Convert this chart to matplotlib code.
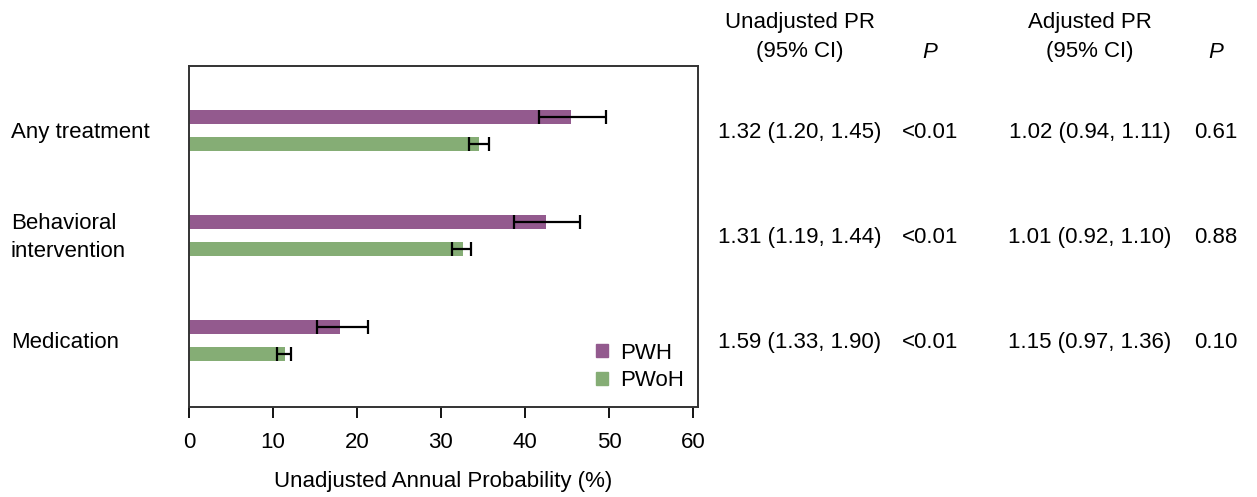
import numpy as np
import matplotlib
matplotlib.use("Agg")
import matplotlib.pyplot as plt
from matplotlib.patches import Patch

plt.rcParams["font.family"] = ["Liberation Sans", "DejaVu Sans"]

categories = ["Any treatment", "Behavioral\nintervention", "Medication"]
pwh_values = [45.5, 42.5, 18.0]
pwh_lower = [41.7, 38.7, 15.2]
pwh_upper = [49.6, 46.5, 21.3]
pwoh_values = [34.5, 32.6, 11.4]
pwoh_lower = [33.3, 31.3, 10.5]
pwoh_upper = [35.7, 33.6, 12.1]

unadj_pr = ["1.32 (1.20, 1.45)", "1.31 (1.19, 1.44)", "1.59 (1.33, 1.90)"]
unadj_p = ["<0.01", "<0.01", "<0.01"]
adj_pr = ["1.02 (0.94, 1.11)", "1.01 (0.92, 1.10)", "1.15 (0.97, 1.36)"]
adj_p = ["0.61", "0.88", "0.10"]

purple = "#935a8e"
green = "#85ad75"
W, H = 1257, 497
FS = 16

fig = plt.figure(figsize=(W / 100, H / 100), dpi=100)
ax = fig.add_axes([189 / W, 1 - 407 / H, (698 - 189) / W, (407 - 66) / H])

y = np.arange(len(categories))
off = 0.129
bh = 0.135

pwh_err = [np.array(pwh_values) - np.array(pwh_lower), np.array(pwh_upper) - np.array(pwh_values)]
pwoh_err = [np.array(pwoh_values) - np.array(pwoh_lower), np.array(pwoh_upper) - np.array(pwoh_values)]

ax.barh(y - off, pwh_values, height=bh, color=purple, label="PWH")
ax.barh(y + off, pwoh_values, height=bh, color=green, label="PWoH")
ax.errorbar(pwh_values, y - off, xerr=pwh_err, fmt="none", ecolor="black",
            elinewidth=1.6, capsize=5, capthick=1.6)
ax.errorbar(pwoh_values, y + off, xerr=pwoh_err, fmt="none", ecolor="black",
            elinewidth=1.6, capsize=5, capthick=1.6)

ax.set_xlim(0, 60.6)
ax.set_ylim(2.63, -0.61)
ax.set_xticks(range(0, 61, 10))
ax.set_yticks([])
ax.tick_params(axis="x", length=8, width=1.3, labelsize=FS, pad=10)
for s in ax.spines.values():
    s.set_linewidth(1.4)
    s.set_color("#333333")
ax.set_xlabel("Unadjusted Annual Probability (%)", fontsize=FS, labelpad=13)

handles = [Patch(color=purple, label="PWH"), Patch(color=green, label="PWoH")]
ax.legend(handles=handles, loc="lower right", frameon=False, fontsize=FS,
          handlelength=0.55, handleheight=0.55, handletextpad=0.55,
          labelspacing=0.3, borderaxespad=0.0, bbox_to_anchor=(0.99, 0.02))

# row labels on the left
for i, cat in enumerate(categories):
    ax.text(-0.35, y[i] + 0.02, cat, transform=ax.get_yaxis_transform(), ha="left",
            va="center", fontsize=FS, linespacing=1.42)

# table to the right
col_x = [800, 930, 1090, 1216]
hy = 1 - 37 / H
fig.text(col_x[0] / W, hy, "Unadjusted PR\n(95% CI)", ha="center", va="center",
         fontsize=FS, linespacing=1.5)
fig.text(col_x[1] / W, 1 - 52 / H, "P", ha="center", va="center", fontsize=FS, style="italic")
fig.text(col_x[2] / W, hy, "Adjusted PR\n(95% CI)", ha="center", va="center",
         fontsize=FS, linespacing=1.5)
fig.text(col_x[3] / W, 1 - 52 / H, "P", ha="center", va="center", fontsize=FS, style="italic")

trans = matplotlib.transforms.blended_transform_factory(fig.transFigure, ax.transData)
for i in range(len(categories)):
    for cx, vals in zip(col_x, [unadj_pr, unadj_p, adj_pr, adj_p]):
        fig.text(cx / W, y[i] + 0.02, vals[i], transform=trans, ha="center", va="center",
                 fontsize=FS)

fig.savefig("out.png", dpi=100)
